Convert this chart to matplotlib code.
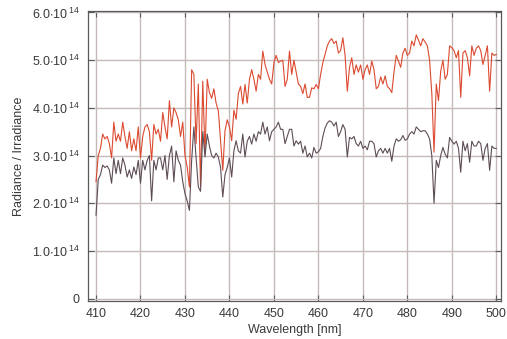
import numpy as np
import matplotlib
matplotlib.use("Agg")
import matplotlib.pyplot as plt
from matplotlib.ticker import FuncFormatter

plt.rcParams["font.family"] = ["Liberation Sans", "DejaVu Sans"]
plt.rcParams["mathtext.fontset"] = "custom"
plt.rcParams["mathtext.rm"] = "Liberation Sans"

# wavelength sampling [nm]
wavelength = np.arange(410, 500.25, 0.5)

# radiance / irradiance, units of 1e14
upper = [
    # 410 - 424
    2.45, 3.0, 3.15, 3.45, 3.35, 3.40, 3.25, 2.95, 3.70, 3.3, 3.45, 3.3, 3.70, 3.4, 3.15,
    3.5, 3.1, 3.35, 3.1, 3.6, 2.95, 3.4, 3.6, 3.65, 3.5, 2.9, 3.65, 3.45, 3.55,
    # 424.5 - 439.5
    3.3, 3.9, 3.6, 3.35, 4.15, 3.6, 4.0, 3.9, 3.75, 3.4, 3.7, 3.0, 2.76, 2.34, 4.8, 4.7,
    3.25, 4.5, 2.34, 4.56, 3.03, 4.6, 4.32, 4.2, 4.4, 4.1, 3.94, 3.31, 2.69, 3.52, 3.75,
    # 440 - 454.5
    3.6, 3.31, 3.95, 3.76, 4.3, 4.45, 4.08, 4.49, 4.1, 4.6, 4.8, 4.6, 4.35, 4.7, 4.6,
    5.19, 4.91, 4.75, 4.6, 4.5, 4.95, 5.1, 4.95, 4.98, 5.0, 4.45, 4.6, 5.19, 4.7, 5.0,
    # 455 - 470
    4.75, 4.5, 4.45, 4.3, 4.5, 4.22, 4.22, 4.42, 4.4, 4.49, 4.4, 4.7, 4.95, 5.12, 5.3, 5.4,
    5.45, 5.35, 5.4, 5.15, 5.2, 5.47, 5.1, 4.35, 4.85, 5.05, 4.7, 4.9, 4.75, 4.9, 4.6,
    # 470.5 - 485
    4.8, 4.9, 4.7, 4.98, 4.8, 4.4, 4.45, 4.65, 4.5, 4.67, 4.45, 4.4, 4.32, 4.75, 5.1,
    4.98, 4.85, 5.15, 5.25, 5.1, 5.15, 5.4, 5.3, 5.53, 5.42, 5.3, 5.45, 5.38, 5.3, 5.0,
    # 485.5 - 500
    4.3, 3.07, 4.5, 4.15, 4.77, 5.0, 4.6, 4.7, 5.3, 5.26, 5.2, 5.05, 5.2, 4.22, 5.15,
    5.2, 5.05, 4.67, 5.3, 5.1, 5.25, 5.3, 5.2, 4.91, 5.1, 5.3, 4.35, 5.15, 5.1, 5.12,
]

lower = [
    # 410 - 424
    1.75, 2.5, 2.6, 2.8, 2.75, 2.78, 2.7, 2.42, 2.95, 2.62, 2.9, 2.62, 2.95, 2.8, 2.55,
    2.7, 2.52, 2.76, 2.6, 2.9, 2.42, 2.9, 2.7, 2.9, 3.0, 2.05, 2.9, 2.7, 2.95,
    # 424.5 - 439.5
    2.95, 2.7, 3.0, 2.5, 3.0, 3.2, 2.45, 3.1, 2.9, 2.8, 2.45, 2.2, 2.05, 1.85, 2.9, 3.6,
    2.95, 2.34, 2.25, 3.5, 2.97, 3.45, 3.2, 3.0, 2.95, 3.05, 2.97, 2.75, 2.13, 2.6, 2.75,
    # 440 - 454.5
    2.95, 2.55, 3.1, 3.31, 3.1, 3.05, 3.45, 2.97, 3.3, 3.4, 3.24, 3.45, 3.3, 3.5, 3.45,
    3.7, 3.45, 3.6, 3.31, 3.5, 3.55, 3.6, 3.7, 3.55, 3.55, 3.25, 3.4, 3.55, 3.55, 3.2,
    # 455 - 470
    3.31, 3.24, 3.3, 3.05, 3.2, 2.97, 3.05, 2.95, 3.17, 3.05, 3.08, 3.15, 3.4, 3.58, 3.68,
    3.73, 3.7, 3.62, 3.7, 3.4, 3.5, 3.65, 3.55, 2.97, 3.38, 3.35, 3.4, 3.25, 3.2, 3.3, 3.15,
    # 470.5 - 485
    3.2, 3.12, 3.3, 3.3, 3.25, 2.97, 3.1, 3.15, 3.05, 3.15, 3.05, 3.15, 2.88, 3.2, 3.35,
    3.3, 3.33, 3.42, 3.32, 3.35, 3.45, 3.5, 3.45, 3.6, 3.55, 3.5, 3.52, 3.52, 3.45, 3.35,
    # 485.5 - 500
    3.0, 2.0, 2.9, 2.75, 3.0, 3.17, 3.03, 2.95, 3.38, 3.3, 3.24, 3.3, 3.15, 2.65, 3.3,
    3.1, 3.25, 2.86, 3.3, 3.2, 3.2, 3.3, 3.25, 2.9, 3.15, 3.25, 2.69, 3.2, 3.15, 3.15,
]

x_ticks = [410, 420, 430, 440, 450, 460, 470, 480, 490, 500]
y_ticks = [0, 1, 2, 3, 4, 5, 6]


def sci_label(v, pos):
    if v == 0:
        return "0"
    return r"$\mathregular{%.1f{\cdot}10^{\,14}}$" % v


fig = plt.figure(figsize=(5.07, 3.39), dpi=100)
ax = fig.add_axes([0.1736, 0.112, 0.8146, 0.8555])

ax.plot(wavelength, upper, color="#dc4a30", lw=0.8, zorder=3)
ax.plot(wavelength, lower, color="#5e4d57", lw=0.8, zorder=3)

ax.set_xlim(408.2, 501.06)
ax.set_ylim(-0.05, 6.03)
ax.set_xticks(x_ticks)
ax.set_yticks(y_ticks)
ax.yaxis.set_major_formatter(FuncFormatter(sci_label))

ax.grid(True, color="#c4bbb8", lw=1.0, zorder=0)
ax.set_axisbelow(True)

for s in ax.spines.values():
    s.set_color("#5a5a5a")
    s.set_linewidth(0.9)

ax.tick_params(axis="both", direction="in", length=4, width=0.8, color="#5a5a5a",
               labelsize=9, labelcolor="#3a3a3a", top=True, right=True)
ax.tick_params(axis="y", pad=6)
ax.tick_params(axis="x", pad=5)

ax.set_xlabel("Wavelength [nm]", fontsize=9, color="#3a3a3a", labelpad=3)
ax.set_ylabel("Radiance / Irradiance", fontsize=9, color="#3a3a3a", labelpad=5)

fig.savefig("out.png", dpi=100)
